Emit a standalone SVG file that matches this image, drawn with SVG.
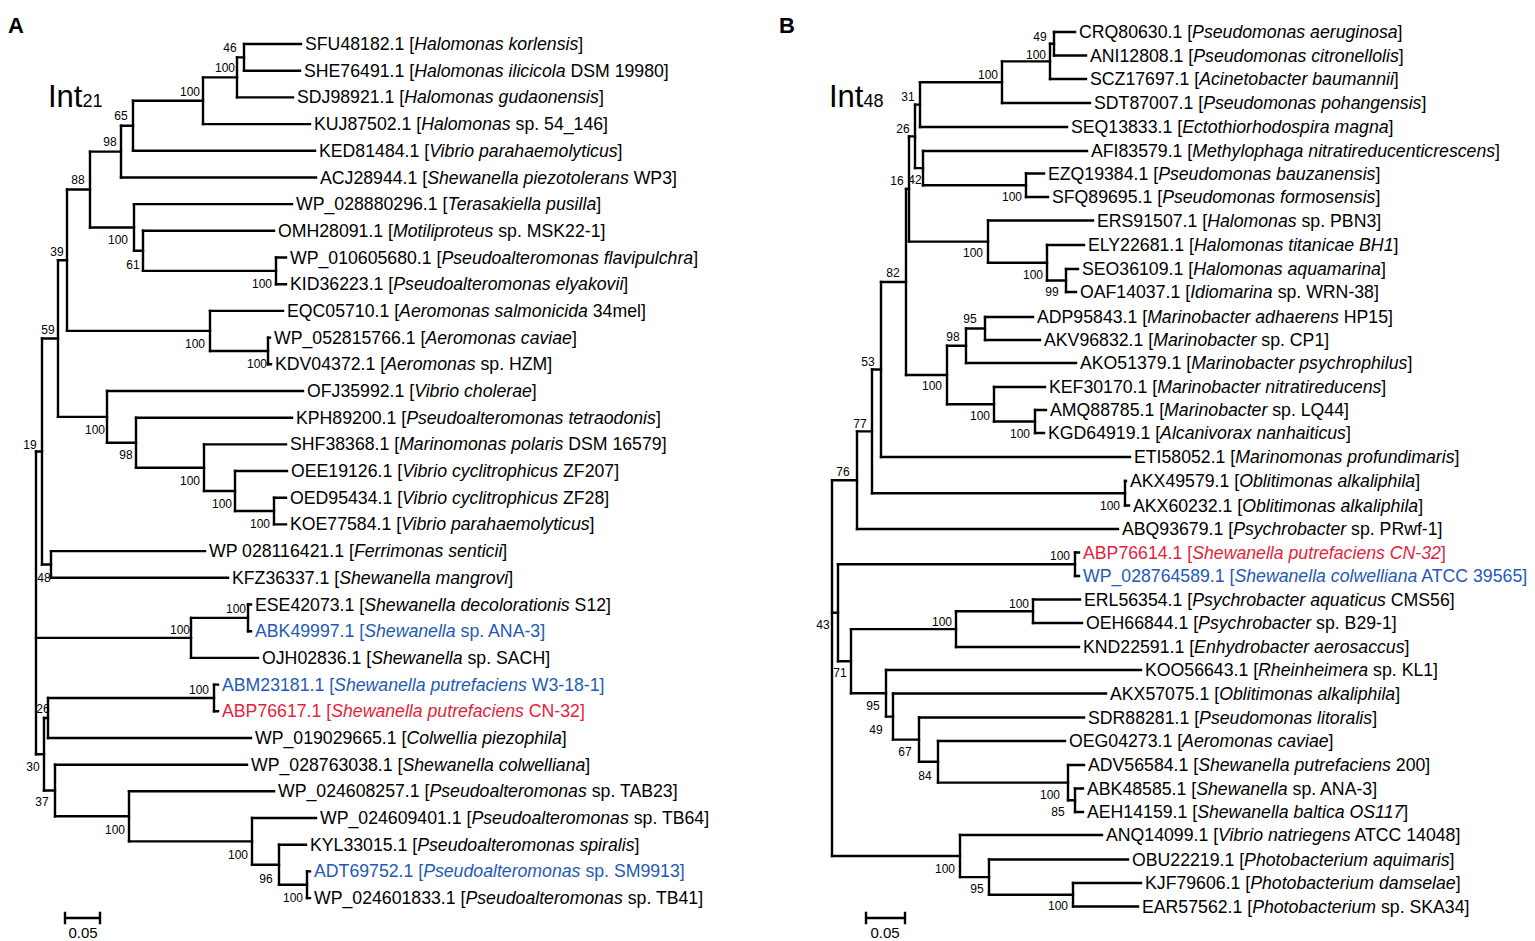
<svg xmlns="http://www.w3.org/2000/svg" width="1535" height="941" viewBox="0 0 1535 941">
<style>
.br{fill:none;stroke:#000;stroke-width:2.4;stroke-linecap:square}
.lf{font-family:"Liberation Sans",Arial,sans-serif;font-size:17.7px;fill:#000}
.bl{fill:#1e5ab4}
.rd{fill:#e61e3c}
.i{font-style:italic}
.bs{font-family:"Liberation Sans",Arial,sans-serif;font-size:12px;fill:#000;text-anchor:middle}
.pl{font-family:"Liberation Sans",Arial,sans-serif;font-size:22px;font-weight:bold;fill:#000}
.int{font-family:"Liberation Sans",Arial,sans-serif;font-size:31px;fill:#000}
.sub{font-size:18px}
.sc{font-family:"Liberation Sans",Arial,sans-serif;font-size:15px;fill:#000;text-anchor:middle}
</style>
<rect width="1535" height="941" fill="#fff"/>
<text class="pl" x="8" y="33">A</text>
<text class="pl" x="779" y="33">B</text>
<text class="int" x="48" y="107">Int<tspan class="sub">21</tspan></text>
<text class="int" x="829" y="107">Int<tspan class="sub">48</tspan></text>

<g id="connectors">
<path class="br" d="M244 44V70.7M237 57.35V97.4M203 77.4V124.1M133 100.75V150.8M121 125.8V177.5M276 257.5V284.2M143 230.8V270.85M134 204.1V250.8M90 151.65V227.45M268 337.6V364.3M210 310.9V350.95M67 189.55V330.9M274 497.7V524.4M235 471V511.05M204 444.4V491M136 417.7V467.7M107 391V442.7M58 260.2V416.85M51 551.1V577.8M42 338.5V564.45M248 604.5V631.2M191 617.85V657.9M214 684.6V711.3M48 697.95V738M307 871.4V898.1M279 844.7V884.75M252 818V864.7M129 791.3V841.35M55 764.7V816.3M44 718V790.5M36 451.5V754.25"/>
<path class="br" d="M237 57.35H244M203 77.4H237M133 100.75H203M121 125.8H133M90 151.65H121M143 270.85H276M134 250.8H143M90 227.45H134M67 189.55H90M210 350.95H268M67 330.9H210M58 260.2H67M235 511.05H274M204 491H235M136 467.7H204M107 442.7H136M58 416.85H107M42 338.5H58M42 564.45H51M36 451.5H42M191 617.85H248M36 637.9H191M48 697.95H214M44 718H48M279 884.75H307M252 864.7H279M129 841.35H252M55 816.3H129M44 790.5H55M36 754.25H44"/>
<path class="br" d="M244 44H301M244 70.7H300M237 97.4H293M203 124.1H310M133 150.8H315M121 177.5H316M134 204.1H292M143 230.8H274M276 257.5H286M276 284.2H286M210 310.9H283M268 337.6H270M268 364.3H271M107 391H303M136 417.7H292M204 444.4H286M235 471H287M274 497.7H286M274 524.4H286M51 551.1H205M51 577.8H228M248 604.5H251M248 631.2H251M191 657.9H258M214 684.6H218M214 711.3H218M48 738H251M55 764.7H247M129 791.3H274M252 818H316M279 844.7H306M307 871.4H310M307 898.1H310"/>
<path class="br" d="M1054 32V55.5M1050 43.75V79M1002 61.4V103M920 82.2V127M1026 173.5V197M923 151V185.25M915 104.6V168.1M1066 269V292M1047 245V280.5M988 220.5V262.75M909 136.35V241.6M985 317V340M966 328.5V363M1035 410V433M994 387V421.5M947 345.75V404.25M906 189V375M881 282V457M1125 481V505.5M872 369.5V493.25M857 431.4V529M1075 552.5V576M1033 599.5V623M956 611.25V647M1075 788.5V812M1068 765V800.25M938 741V782.6M919 717.5V761.8M893 693.5V739.65M886 670V716.6M851 629.1V693.3M838 564.25V661.2M1073 883V906.5M989 859.5V894.75M960 835V877.1M832 480.2V856"/>
<path class="br" d="M1050 43.75H1054M1002 61.4H1050M920 82.2H1002M915 104.6H920M923 185.25H1026M915 168.1H923M909 136.35H915M1047 280.5H1066M988 262.75H1047M909 241.6H988M906 189H909M966 328.5H985M947 345.75H966M994 421.5H1035M947 404.25H994M906 375H947M881 282H906M872 369.5H881M872 493.25H1125M857 431.4H872M832 480.2H857M838 564.25H1075M956 611.25H1033M851 629.1H956M1068 800.25H1075M938 782.6H1068M919 761.8H938M893 739.65H919M886 716.6H893M851 693.3H886M838 661.2H851M832 612.7H838M989 894.75H1073M960 877.1H989M832 856H960"/>
<path class="br" d="M1054 32H1075M1054 55.5H1086M1050 79H1086M1002 103H1090M920 127H1067M923 151H1087M1026 173.5H1044M1026 197H1048M988 220.5H1093M1047 245H1084M1066 269H1078M1066 292H1076M985 317H1033M985 340H1040M966 363H1076M994 387H1045M1035 410H1046M1035 433H1044M881 457H1130M1125 481H1126M1125 505.5H1129M857 529H1118M1075 552.5H1079M1075 576H1079M1033 599.5H1080M1033 623H1082M956 647H1079M886 670H1141M893 693.5H1106M919 717.5H1084M938 741H1065M1068 765H1084M1075 788.5H1083M1075 812H1083M960 835H1102M989 859.5H1128M1073 883H1141M1073 906.5H1138"/>
<path class="br" d="M65 918H100M65 913V923M100 913V923M866 918H905M866 913V923M905 913V923"/>
</g>

<g id="scalebars">
<text class="sc" x="83" y="938">0.05</text>
<text class="sc" x="885" y="938">0.05</text>
</g>

<g id="bootstrap-A">
<text class="bs" x="230" y="52">46</text>
<text class="bs" x="225" y="72">100</text>
<text class="bs" x="190" y="96">100</text>
<text class="bs" x="121" y="120">65</text>
<text class="bs" x="110" y="146">98</text>
<text class="bs" x="78" y="184">88</text>
<text class="bs" x="118" y="244">100</text>
<text class="bs" x="133" y="269">61</text>
<text class="bs" x="262" y="288">100</text>
<text class="bs" x="57" y="256">39</text>
<text class="bs" x="48" y="334">59</text>
<text class="bs" x="195" y="348">100</text>
<text class="bs" x="257" y="368">100</text>
<text class="bs" x="95" y="434">100</text>
<text class="bs" x="126" y="459">98</text>
<text class="bs" x="190" y="485">100</text>
<text class="bs" x="222" y="508">100</text>
<text class="bs" x="260" y="528">100</text>
<text class="bs" x="30" y="449">19</text>
<text class="bs" x="44" y="582">48</text>
<text class="bs" x="236" y="613">100</text>
<text class="bs" x="180" y="634">100</text>
<text class="bs" x="199" y="694">100</text>
<text class="bs" x="43" y="713">26</text>
<text class="bs" x="33" y="771">30</text>
<text class="bs" x="42" y="806">37</text>
<text class="bs" x="115" y="834">100</text>
<text class="bs" x="238" y="859">100</text>
<text class="bs" x="266" y="883">96</text>
<text class="bs" x="293" y="902">100</text>
</g>

<g id="bootstrap-B">
<text class="bs" x="1040" y="41">49</text>
<text class="bs" x="1036" y="59">100</text>
<text class="bs" x="988" y="79">100</text>
<text class="bs" x="908" y="101">31</text>
<text class="bs" x="903" y="133">26</text>
<text class="bs" x="897" y="185">16</text>
<text class="bs" x="915" y="184">42</text>
<text class="bs" x="1012" y="201">100</text>
<text class="bs" x="973" y="257">100</text>
<text class="bs" x="893" y="277">82</text>
<text class="bs" x="1033" y="279">100</text>
<text class="bs" x="1052" y="296">99</text>
<text class="bs" x="970" y="323">95</text>
<text class="bs" x="953" y="341">98</text>
<text class="bs" x="868" y="366">53</text>
<text class="bs" x="932" y="390">100</text>
<text class="bs" x="980" y="420">100</text>
<text class="bs" x="1020" y="438">100</text>
<text class="bs" x="860" y="428">77</text>
<text class="bs" x="843" y="476">76</text>
<text class="bs" x="1110" y="510">100</text>
<text class="bs" x="1060" y="560">100</text>
<text class="bs" x="1019" y="608">100</text>
<text class="bs" x="942" y="626">100</text>
<text class="bs" x="823" y="629">43</text>
<text class="bs" x="840" y="677">71</text>
<text class="bs" x="873" y="710">95</text>
<text class="bs" x="876" y="734">49</text>
<text class="bs" x="905" y="756">67</text>
<text class="bs" x="925" y="780">84</text>
<text class="bs" x="1050" y="799">100</text>
<text class="bs" x="1058" y="816">85</text>
<text class="bs" x="945" y="873">100</text>
<text class="bs" x="977" y="893">95</text>
<text class="bs" x="1058" y="910">100</text>
</g>

<g id="A-SFU48182"><text class="lf" x="305" y="50">SFU48182.1 [<tspan class="i">Halomonas korlensis</tspan>]</text></g>
<g id="A-SHE76491"><text class="lf" x="304" y="76.7">SHE76491.1 [<tspan class="i">Halomonas ilicicola</tspan> DSM 19980]</text></g>
<g id="A-SDJ98921"><text class="lf" x="297" y="103.4">SDJ98921.1 [<tspan class="i">Halomonas gudaonensis</tspan>]</text></g>
<g id="A-KUJ87502"><text class="lf" x="314" y="130.1">KUJ87502.1 [<tspan class="i">Halomonas</tspan> sp. 54_146]</text></g>
<g id="A-KED81484"><text class="lf" x="319" y="156.8">KED81484.1 [<tspan class="i">Vibrio parahaemolyticus</tspan>]</text></g>
<g id="A-ACJ28944"><text class="lf" x="320" y="183.5">ACJ28944.1 [<tspan class="i">Shewanella piezotolerans</tspan> WP3]</text></g>
<g id="A-WP_028880296"><text class="lf" x="296" y="210.1">WP_028880296.1 [<tspan class="i">Terasakiella pusilla</tspan>]</text></g>
<g id="A-OMH28091"><text class="lf" x="278" y="236.8">OMH28091.1 [<tspan class="i">Motiliproteus</tspan> sp. MSK22-1]</text></g>
<g id="A-WP_010605680"><text class="lf" x="290" y="263.5">WP_010605680.1 [<tspan class="i">Pseudoalteromonas flavipulchra</tspan>]</text></g>
<g id="A-KID36223"><text class="lf" x="290" y="290.2">KID36223.1 [<tspan class="i">Pseudoalteromonas elyakovii</tspan>]</text></g>
<g id="A-EQC05710"><text class="lf" x="287" y="316.9">EQC05710.1 [<tspan class="i">Aeromonas salmonicida</tspan> 34mel]</text></g>
<g id="A-WP_052815766"><text class="lf" x="274" y="343.6">WP_052815766.1 [<tspan class="i">Aeromonas caviae</tspan>]</text></g>
<g id="A-KDV04372"><text class="lf" x="275" y="370.3">KDV04372.1 [<tspan class="i">Aeromonas</tspan> sp. HZM]</text></g>
<g id="A-OFJ35992"><text class="lf" x="307" y="397">OFJ35992.1 [<tspan class="i">Vibrio cholerae</tspan>]</text></g>
<g id="A-KPH89200"><text class="lf" x="296" y="423.7">KPH89200.1 [<tspan class="i">Pseudoalteromonas tetraodonis</tspan>]</text></g>
<g id="A-SHF38368"><text class="lf" x="290" y="450.4">SHF38368.1 [<tspan class="i">Marinomonas polaris</tspan> DSM 16579]</text></g>
<g id="A-OEE19126"><text class="lf" x="291" y="477">OEE19126.1 [<tspan class="i">Vibrio cyclitrophicus</tspan> ZF207]</text></g>
<g id="A-OED95434"><text class="lf" x="290" y="503.7">OED95434.1 [<tspan class="i">Vibrio cyclitrophicus</tspan> ZF28]</text></g>
<g id="A-KOE77584"><text class="lf" x="290" y="530.4">KOE77584.1 [<tspan class="i">Vibrio parahaemolyticus</tspan>]</text></g>
<g id="A-WP_028116421"><text class="lf" x="209" y="557.1">WP 028116421.1 [<tspan class="i">Ferrimonas senticii</tspan>]</text></g>
<g id="A-KFZ36337"><text class="lf" x="232" y="583.8">KFZ36337.1 [<tspan class="i">Shewanella mangrovi</tspan>]</text></g>
<g id="A-ESE42073"><text class="lf" x="255" y="610.5">ESE42073.1 [<tspan class="i">Shewanella decolorationis</tspan> S12]</text></g>
<g id="A-ABK49997"><text class="lf bl" x="255" y="637.2">ABK49997.1 [<tspan class="i">Shewanella</tspan> sp. ANA-3]</text></g>
<g id="A-OJH02836"><text class="lf" x="262" y="663.9">OJH02836.1 [<tspan class="i">Shewanella</tspan> sp. SACH]</text></g>
<g id="A-ABM23181"><text class="lf bl" x="222" y="690.6">ABM23181.1 [<tspan class="i">Shewanella putrefaciens</tspan> W3-18-1]</text></g>
<g id="A-ABP76617"><text class="lf rd" x="222" y="717.3">ABP76617.1 [<tspan class="i">Shewanella putrefaciens</tspan> CN-32]</text></g>
<g id="A-WP_019029665"><text class="lf" x="255" y="744">WP_019029665.1 [<tspan class="i">Colwellia piezophila</tspan>]</text></g>
<g id="A-WP_028763038"><text class="lf" x="251" y="770.7">WP_028763038.1 [<tspan class="i">Shewanella colwelliana</tspan>]</text></g>
<g id="A-WP_024608257"><text class="lf" x="278" y="797.3">WP_024608257.1 [<tspan class="i">Pseudoalteromonas</tspan> sp. TAB23]</text></g>
<g id="A-WP_024609401"><text class="lf" x="320" y="824">WP_024609401.1 [<tspan class="i">Pseudoalteromonas</tspan> sp. TB64]</text></g>
<g id="A-KYL33015"><text class="lf" x="310" y="850.7">KYL33015.1 [<tspan class="i">Pseudoalteromonas spiralis</tspan>]</text></g>
<g id="A-ADT69752"><text class="lf bl" x="314" y="877.4">ADT69752.1 [<tspan class="i">Pseudoalteromonas</tspan> sp. SM9913]</text></g>
<g id="A-WP_024601833"><text class="lf" x="314" y="904.1">WP_024601833.1 [<tspan class="i">Pseudoalteromonas</tspan> sp. TB41]</text></g>

<g id="B-CRQ80630"><text class="lf" x="1079" y="38">CRQ80630.1 [<tspan class="i">Pseudomonas aeruginosa</tspan>]</text></g>
<g id="B-ANI12808"><text class="lf" x="1090" y="61.5">ANI12808.1 [<tspan class="i">Pseudomonas citronellolis</tspan>]</text></g>
<g id="B-SCZ17697"><text class="lf" x="1090" y="85">SCZ17697.1 [<tspan class="i">Acinetobacter baumannii</tspan>]</text></g>
<g id="B-SDT87007"><text class="lf" x="1094" y="109">SDT87007.1 [<tspan class="i">Pseudomonas pohangensis</tspan>]</text></g>
<g id="B-SEQ13833"><text class="lf" x="1071" y="133">SEQ13833.1 [<tspan class="i">Ectothiorhodospira magna</tspan>]</text></g>
<g id="B-AFI83579"><text class="lf" x="1091" y="157">AFI83579.1 [<tspan class="i">Methylophaga nitratireducenticrescens</tspan>]</text></g>
<g id="B-EZQ19384"><text class="lf" x="1048" y="179.5">EZQ19384.1 [<tspan class="i">Pseudomonas bauzanensis</tspan>]</text></g>
<g id="B-SFQ89695"><text class="lf" x="1052" y="203">SFQ89695.1 [<tspan class="i">Pseudomonas formosensis</tspan>]</text></g>
<g id="B-ERS91507"><text class="lf" x="1097" y="226.5">ERS91507.1 [<tspan class="i">Halomonas</tspan> sp. PBN3]</text></g>
<g id="B-ELY22681"><text class="lf" x="1088" y="251">ELY22681.1 [<tspan class="i">Halomonas titanicae BH1</tspan>]</text></g>
<g id="B-SEO36109"><text class="lf" x="1082" y="275">SEO36109.1 [<tspan class="i">Halomonas aquamarina</tspan>]</text></g>
<g id="B-OAF14037"><text class="lf" x="1080" y="298">OAF14037.1 [<tspan class="i">Idiomarina</tspan> sp. WRN-38]</text></g>
<g id="B-ADP95843"><text class="lf" x="1037" y="323">ADP95843.1 [<tspan class="i">Marinobacter adhaerens</tspan> HP15]</text></g>
<g id="B-AKV96832"><text class="lf" x="1044" y="346">AKV96832.1 [<tspan class="i">Marinobacter</tspan> sp. CP1]</text></g>
<g id="B-AKO51379"><text class="lf" x="1080" y="369">AKO51379.1 [<tspan class="i">Marinobacter psychrophilus</tspan>]</text></g>
<g id="B-KEF30170"><text class="lf" x="1049" y="393">KEF30170.1 [<tspan class="i">Marinobacter nitratireducens</tspan>]</text></g>
<g id="B-AMQ88785"><text class="lf" x="1050" y="416">AMQ88785.1 [<tspan class="i">Marinobacter</tspan> sp. LQ44]</text></g>
<g id="B-KGD64919"><text class="lf" x="1048" y="439">KGD64919.1 [<tspan class="i">Alcanivorax nanhaiticus</tspan>]</text></g>
<g id="B-ETI58052"><text class="lf" x="1134" y="463">ETI58052.1 [<tspan class="i">Marinomonas profundimaris</tspan>]</text></g>
<g id="B-AKX49579"><text class="lf" x="1130" y="487">AKX49579.1 [<tspan class="i">Oblitimonas alkaliphila</tspan>]</text></g>
<g id="B-AKX60232"><text class="lf" x="1133" y="511.5">AKX60232.1 [<tspan class="i">Oblitimonas alkaliphila</tspan>]</text></g>
<g id="B-ABQ93679"><text class="lf" x="1122" y="535">ABQ93679.1 [<tspan class="i">Psychrobacter</tspan> sp. PRwf-1]</text></g>
<g id="B-ABP76614"><text class="lf rd" x="1083" y="558.5">ABP76614.1 [<tspan class="i">Shewanella putrefaciens CN-32</tspan>]</text></g>
<g id="B-WP_028764589"><text class="lf bl" x="1083" y="582">WP_028764589.1 [<tspan class="i">Shewanella colwelliana</tspan> ATCC 39565]</text></g>
<g id="B-ERL56354"><text class="lf" x="1084" y="605.5">ERL56354.1 [<tspan class="i">Psychrobacter aquaticus</tspan> CMS56]</text></g>
<g id="B-OEH66844"><text class="lf" x="1086" y="629">OEH66844.1 [<tspan class="i">Psychrobacter</tspan> sp. B29-1]</text></g>
<g id="B-KND22591"><text class="lf" x="1083" y="653">KND22591.1 [<tspan class="i">Enhydrobacter aerosaccus</tspan>]</text></g>
<g id="B-KOO56643"><text class="lf" x="1145" y="676">KOO56643.1 [<tspan class="i">Rheinheimera</tspan> sp. KL1]</text></g>
<g id="B-AKX57075"><text class="lf" x="1110" y="699.5">AKX57075.1 [<tspan class="i">Oblitimonas alkaliphila</tspan>]</text></g>
<g id="B-SDR88281"><text class="lf" x="1088" y="723.5">SDR88281.1 [<tspan class="i">Pseudomonas litoralis</tspan>]</text></g>
<g id="B-OEG04273"><text class="lf" x="1069" y="747">OEG04273.1 [<tspan class="i">Aeromonas caviae</tspan>]</text></g>
<g id="B-ADV56584"><text class="lf" x="1088" y="771">ADV56584.1 [<tspan class="i">Shewanella putrefaciens</tspan> 200]</text></g>
<g id="B-ABK48585"><text class="lf" x="1087" y="794.5">ABK48585.1 [<tspan class="i">Shewanella</tspan> sp. ANA-3]</text></g>
<g id="B-AEH14159"><text class="lf" x="1087" y="818">AEH14159.1 [<tspan class="i">Shewanella baltica OS117</tspan>]</text></g>
<g id="B-ANQ14099"><text class="lf" x="1106" y="841">ANQ14099.1 [<tspan class="i">Vibrio natriegens</tspan> ATCC 14048]</text></g>
<g id="B-OBU22219"><text class="lf" x="1132" y="865.5">OBU22219.1 [<tspan class="i">Photobacterium aquimaris</tspan>]</text></g>
<g id="B-KJF79606"><text class="lf" x="1145" y="889">KJF79606.1 [<tspan class="i">Photobacterium damselae</tspan>]</text></g>
<g id="B-EAR57562"><text class="lf" x="1142" y="912.5">EAR57562.1 [<tspan class="i">Photobacterium</tspan> sp. SKA34]</text></g>
</svg>
